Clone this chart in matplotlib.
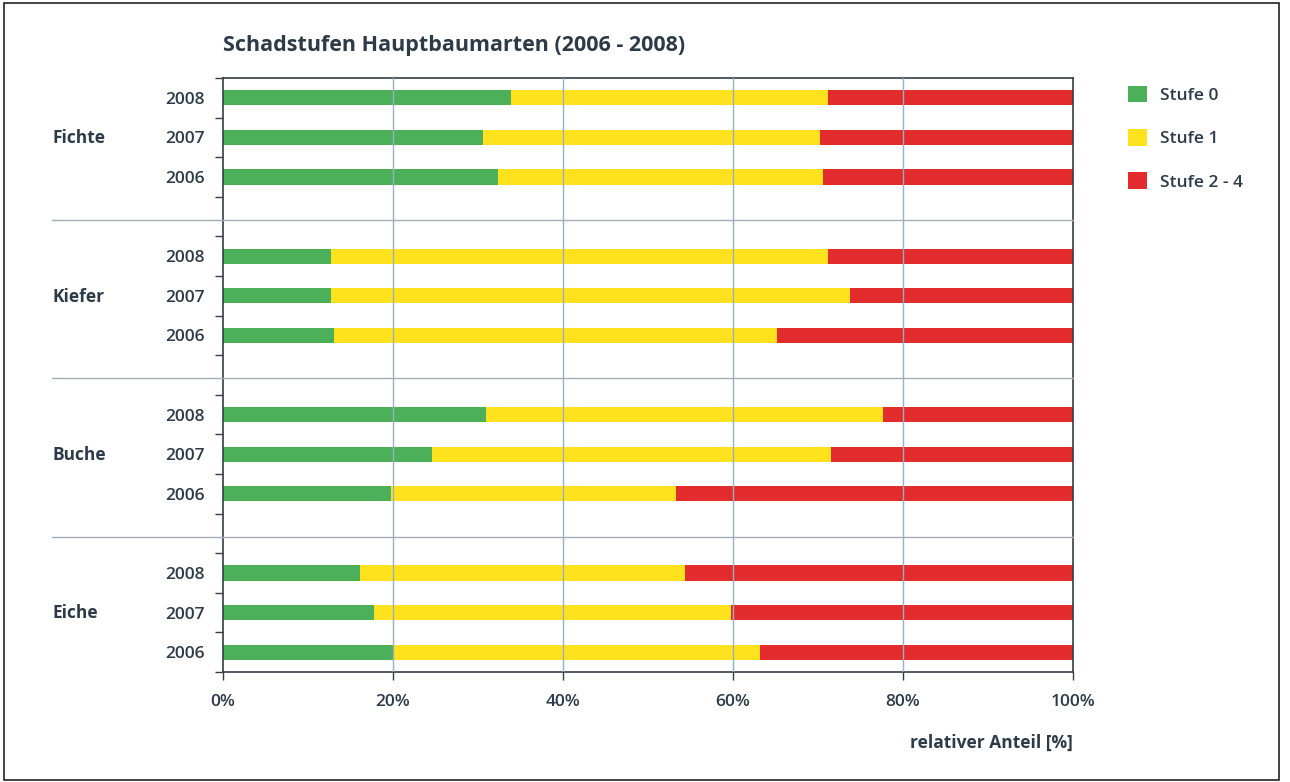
import matplotlib
matplotlib.use("Agg")
import matplotlib.pyplot as plt
from matplotlib.patches import Rectangle, Patch
import matplotlib.transforms as mtransforms

# ---- data ----
species = ["Fichte", "Kiefer", "Buche", "Eiche"]
years = ["2008", "2007", "2006"]
series_names = ["Stufe 0", "Stufe 1", "Stufe 2 - 4"]
# values per species, rows in order 2008, 2007, 2006 (percent)
stufe0 = {
    "Fichte": [33.9, 30.6, 32.4],
    "Kiefer": [12.7, 12.7, 13.1],
    "Buche":  [30.9, 24.6, 19.8],
    "Eiche":  [16.1, 17.8, 20.1],
}
stufe1 = {
    "Fichte": [37.3, 39.6, 38.2],
    "Kiefer": [58.5, 61.1, 52.1],
    "Buche":  [46.7, 46.9, 33.5],
    "Eiche":  [38.3, 42.0, 43.1],
}
stufe24 = {
    "Fichte": [28.8, 29.8, 29.4],
    "Kiefer": [28.8, 26.2, 34.8],
    "Buche":  [22.4, 28.5, 46.7],
    "Eiche":  [45.6, 40.2, 36.8],
}
xticks = [0, 20, 40, 60, 80, 100]
xtick_labels = ["0%", "20%", "40%", "60%", "80%", "100%"]

colors = ["#4caf5a", "#ffe21e", "#e22c2e"]
txt = "#2d3b48"
grid_c = "#98b0c4"
sep_c = "#a3adb7"

plt.rcParams['font.family'] = ['Open Sans', 'DejaVu Sans']

fig = plt.figure(figsize=(12.9, 7.82), dpi=100)
ax = fig.add_axes([223/1290, 1-672/782, (1073-223)/1290, (672-78)/782])

bar_h = 0.38
ypos = []
for gi, sp in enumerate(species):
    for ri in range(3):
        y = gi*4 + ri
        ypos.append(y)
        left = 0
        for si, vals in enumerate([stufe0, stufe1, stufe24]):
            v = vals[sp][ri]
            ax.barh(y, v, left=left, height=bar_h, color=colors[si], zorder=2, linewidth=0)
            left += v

ax.set_xlim(0, 100)
ax.set_ylim(14.5, -0.5)

# gridlines on top of bars
for xv in xticks[1:-1]:
    ax.axvline(xv, color=grid_c, lw=1.0, zorder=3)

# separators
trans = mtransforms.blended_transform_factory(fig.transFigure, ax.transData)
for s in [3, 7, 11]:
    ax.plot([52/1290, 1073/1290], [s + 0.08, s + 0.08], transform=trans, color=sep_c, lw=1.0,
            clip_on=False, zorder=3)

# y ticks at slot boundaries
bounds = [b - 0.5 for b in range(16)]
ax.set_yticks(bounds)
ax.set_yticklabels([])
ax.tick_params(axis='y', which='major', length=6, width=1.0, color="#333d47", direction='out')
ax.set_yticks(ypos, minor=True)
ax.set_yticklabels(years*4, minor=True, fontsize=12.5, color=txt, fontweight='semibold')
ax.tick_params(axis='y', which='minor', length=0, pad=13)

ax.set_xticks(xticks)
ax.set_xticklabels(xtick_labels, fontsize=12.5, color=txt, fontweight='semibold')
ax.tick_params(axis='x', length=6, width=1.0, color="#333d47", direction='out', pad=10)

for sp_ in ax.spines.values():
    sp_.set_color("#333d47")
    sp_.set_linewidth(1.2)

# group labels
tl = mtransforms.blended_transform_factory(fig.transFigure, ax.transData)
for gi, sp in enumerate(species):
    ax.text(52/1290, gi*4 + 1.02, sp, transform=tl, ha='left', va='center',
            fontsize=12.5, fontweight='bold', color=txt)

# title
fig.text(223/1290, 1-45/782, "Schadstufen Hauptbaumarten (2006 - 2008)", ha='left', va='center',
         fontsize=15.5, fontweight='bold', color=txt)

# x label
fig.text(1073/1290, 1-743/782, "relativer Anteil [%]", ha='right', va='center',
         fontsize=12.5, fontweight='bold', color=txt)

# legend
handles = [Patch(facecolor=c, edgecolor='none') for c in colors]
leg = fig.legend(handles, series_names, loc='upper left', bbox_to_anchor=(1112/1290, 1-70/782),
                 frameon=False, handlelength=1.1, handleheight=1.1, handletextpad=0.75,
                 labelspacing=1.45, prop={'size': 12.5, 'weight': 'semibold'})
for t in leg.get_texts():
    t.set_color(txt)

# outer frame
fig.patches.append(Rectangle((4/1290, 2/782), (1279-4)/1290, (779-2)/782, transform=fig.transFigure,
                             fill=False, edgecolor="#222222", lw=1.2))

fig.savefig("out.png", dpi=100)
